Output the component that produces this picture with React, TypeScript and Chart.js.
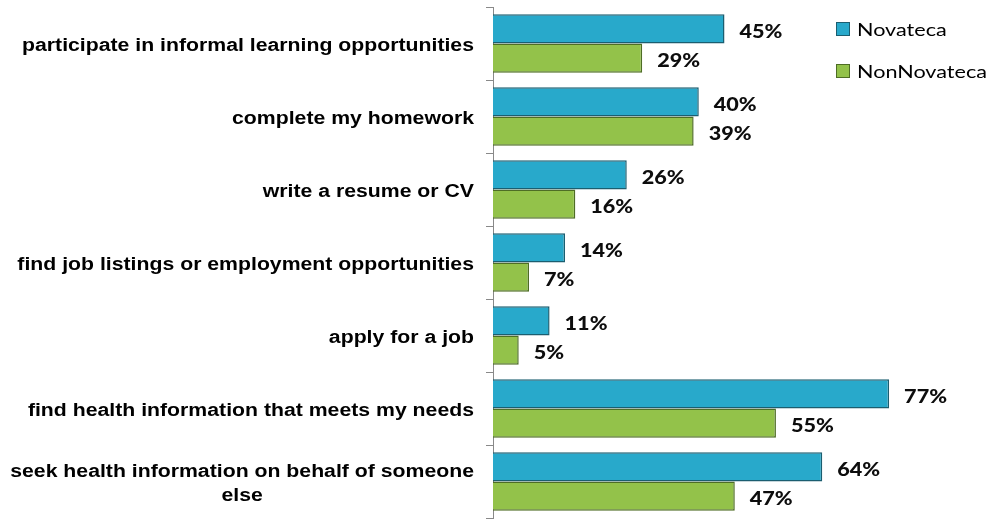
import React, { useEffect, useRef } from "react";
import { Chart, registerables } from "chart.js";

Chart.register(...registerables);

const categories: string[][] = [
  ["participate in informal learning opportunities"],
  ["complete my homework"],
  ["write a resume or CV"],
  ["find job listings or employment opportunities"],
  ["apply for a job"],
  ["find health information that meets my needs"],
  ["seek health information on behalf of someone", "else"],
];
const novateca: number[] = [45, 40, 26, 14, 11, 77, 64];
const nonNovateca: number[] = [29, 39, 16, 7, 5, 55, 47];
const seriesNames: string[] = ["Novateca", "NonNovateca"];

const FILLS = ["#28A9CB", "#93C24A"];
const BORDERS = ["#1B5E70", "#4E6D25"];

function drawStretched(
  ctx: CanvasRenderingContext2D,
  text: string,
  x: number,
  y: number,
  align: "left" | "right" | "center",
  sx: number
) {
  const w = ctx.measureText(text).width * sx;
  let left = x;
  if (align === "right") left = x - w;
  else if (align === "center") left = x - w / 2;
  ctx.save();
  ctx.translate(left, y);
  ctx.scale(sx, 1);
  ctx.textAlign = "left";
  ctx.textBaseline = "alphabetic";
  ctx.fillText(text, 0, 0);
  ctx.restore();
}

const overlayPlugin = {
  id: "overlay",
  afterDatasetsDraw(chart: any) {
    const ctx: CanvasRenderingContext2D = chart.ctx;
    const yScale = chart.scales.y;
    const area = chart.chartArea;
    ctx.save();
    ctx.fillStyle = "#000000";

    // category labels
    ctx.font = "bold 18px 'Liberation Sans', Arial, sans-serif";
    const labelRight = area.left - 19;
    categories.forEach((lines, i) => {
      const cy = yScale.getPixelForValue(i);
      if (lines.length === 1) {
        drawStretched(ctx, lines[0], labelRight, cy + 7, "right", 1.18);
      } else {
        const widths = lines.map((l) => ctx.measureText(l).width * 1.18);
        const maxW = Math.max(...widths);
        const centerX = labelRight - maxW / 2;
        const lineH = 24;
        const startY = cy + 7 - ((lines.length - 1) * lineH) / 2;
        lines.forEach((l, j) => {
          drawStretched(ctx, l, centerX, startY + j * lineH, "center", 1.18);
        });
      }
    });

    // data labels
    ctx.font = "900 18px Lato, 'Open Sans', sans-serif";
    ctx.fillStyle = "#0d0d0d";
    chart.data.datasets.forEach((ds: any, di: number) => {
      const meta = chart.getDatasetMeta(di);
      meta.data.forEach((bar: any, i: number) => {
        const v = ds.data[i];
        drawStretched(ctx, v + "%", bar.x + 15, bar.y + 9, "left", 1.2);
      });
    });

    // legend
    ctx.font = "18px Lato, 'Open Sans', sans-serif";
    const legendYs = [29, 71];
    seriesNames.forEach((name, i) => {
      const cy = legendYs[i];
      ctx.fillStyle = FILLS[i];
      ctx.fillRect(836.5, cy - 6.5, 13, 13);
      ctx.strokeStyle = BORDERS[i];
      ctx.lineWidth = 1;
      ctx.strokeRect(836.5, cy - 6.5, 13, 13);
      ctx.fillStyle = "#000000";
      drawStretched(ctx, name, 857, cy + 6.5, "left", 1.2);
    });
    ctx.restore();
  },
};

export default function App() {
  const ref = useRef<HTMLCanvasElement | null>(null);
  useEffect(() => {
    if (!ref.current) return;
    const chart = new Chart(ref.current, {
      type: "bar",
      data: {
        labels: categories.map((c) => c.join(" ")),
        datasets: [
          {
            label: seriesNames[0],
            data: novateca,
            backgroundColor: FILLS[0],
            borderColor: BORDERS[0],
            borderWidth: 1.5,
            barPercentage: 1,
            categoryPercentage: 0.8,
          },
          {
            label: seriesNames[1],
            data: nonNovateca,
            backgroundColor: FILLS[1],
            borderColor: BORDERS[1],
            borderWidth: 1.5,
            barPercentage: 1,
            categoryPercentage: 0.8,
          },
        ],
      },
      options: {
        indexAxis: "y",
        responsive: false,
        animation: false,
        layout: { padding: { top: 7, bottom: 1, left: 0, right: 34 } },
        plugins: {
          legend: { display: false },
          tooltip: { enabled: false },
        },
        scales: {
          x: { display: false, min: 0, max: 90 },
          y: {
            afterFit: (scale: any) => {
              scale.width = 493;
            },
            ticks: { display: false },
            grid: {
              drawOnChartArea: false,
              drawTicks: true,
              tickLength: 7,
              color: "#898989",
              offset: true,
            },
            border: { display: true, color: "#898989", width: 1 },
          },
        },
      },
      plugins: [overlayPlugin],
    } as any);
    return () => chart.destroy();
  }, []);
  return (
    <canvas
      ref={ref}
      width={990}
      height={519}
      style={{ position: "absolute", left: 0, top: 0, display: "block" }}
    />
  );
}
